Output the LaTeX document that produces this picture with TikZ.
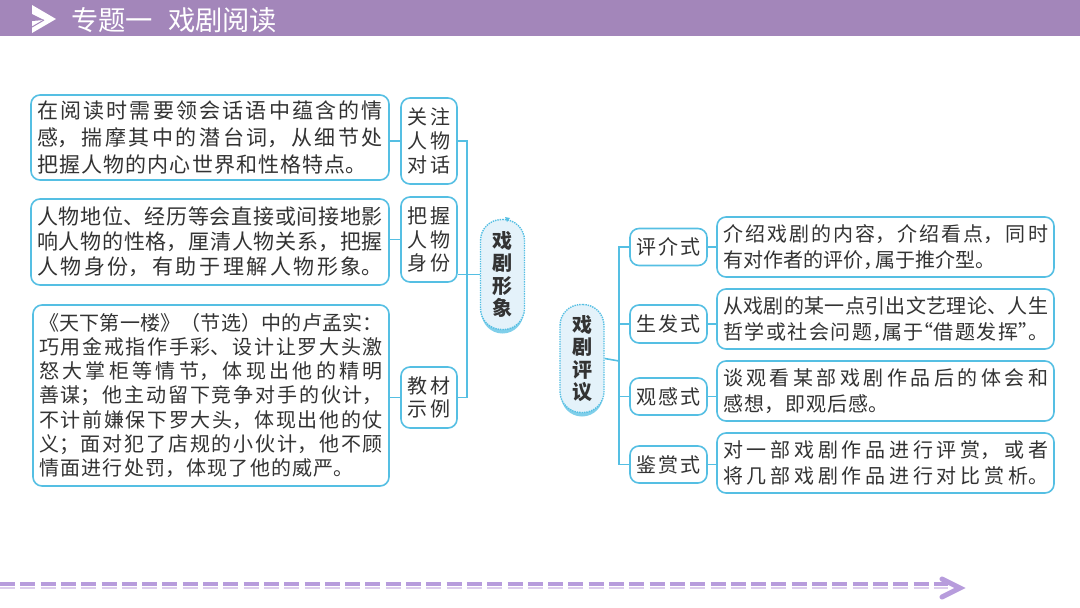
\documentclass[tikz,border=0pt]{standalone}
\usepackage{fontspec}
\setmainfont{Noto Sans CJK SC}
\usepackage{tikz}
\usetikzlibrary{positioning}
\definecolor{barpurple}{HTML}{A386BA}
\definecolor{dashpurple}{HTML}{B79CDC}
\definecolor{dashlight}{HTML}{DCCDEC}
\definecolor{linkblue}{HTML}{55BFE3}
\definecolor{softblue}{HTML}{E4F2FA}
\definecolor{inkgray}{HTML}{333333}
\XeTeXlinebreaklocale "zh"
\XeTeXlinebreakskip=0pt plus 8pt
\newcommand{\lastfill}[1]{\kern#1\parfillskip=0pt\par}
\tikzset{
  x=1pt, y=-1pt,
  textbox/.style={rectangle, rounded corners=9pt, draw=linkblue, line width=1.6pt, fill=white, text=inkgray, inner xsep=6pt, inner ysep=0pt, align=justify, font=\fontsize{21}{27}\selectfont},
  tagbox/.style={rectangle, rounded corners=9pt, draw=linkblue, line width=1.6pt, fill=white, text=inkgray, inner sep=0pt, align=center, font=\fontsize{20}{23.7}\selectfont},
  topicbox/.style={rectangle, rounded corners=21pt, draw=linkblue, densely dotted, line width=1.4pt, fill=softblue, text=inkgray, inner sep=0pt, minimum width=44pt, align=center, font=\fontsize{20}{22.4}\selectfont\bfseries},
  topicshade/.style={rectangle, rounded corners=21pt, fill=linkblue!75, minimum width=42pt},
  link/.style={draw=linkblue, line width=1.6pt},
}
\begin{document}
\begin{tikzpicture}
  \useasboundingbox (0,0) rectangle (1080,608);

  % Header
  \fill[barpurple] (0,0) rectangle (1080,36);
  \fill[white] (32,5) -- (56,19) -- (32,33) -- cycle;
  \fill[barpurple] (32,14) -- (44,20) -- (32,21) -- cycle;
  \draw[barpurple, line width=1pt] (32,27) -- (44,20);
  \node[text=white, font=\fontsize{27.3}{27.3}\selectfont, anchor=west, inner sep=0pt] (title) at (71,20) {专题一\hspace{15pt}戏剧阅读};

  % Left nodes
  \node[textbox, text width=346pt, minimum height=85pt] (talk) at (210,137.5) {在阅读时需要领会话语中蕴含的情\linebreak 感，揣摩其中的潜台词，从细节处\linebreak 把握人物的内心世界和性格特点。\lastfill{16pt}};
  \node[textbox, text width=346pt, minimum height=86pt, font=\fontsize{21}{25}\selectfont] (status) at (210,242) {人物地位、经历等会直接或间接地影\linebreak 响人物的性格，厘清人物关系，把握\linebreak 人物身份，有助于理解人物形象。\lastfill{0pt}};
  \node[textbox, text width=344pt, minimum height=181pt, font=\fontsize{20}{24.2}\selectfont] (sample) at (211,395.5) {《天下第一楼》（节选）中的卢孟实：\linebreak 巧用金戒指作手彩、设计让罗大头激\linebreak 怒大掌柜等情节，体现出他的精明\linebreak 善谋；他主动留下竞争对手的伙计，\linebreak 不计前嫌保下罗大头，体现出他的仗\linebreak 义；面对犯了店规的小伙计，他不顾\linebreak 情面进行处罚，体现了他的威严。\lastfill{29pt}};
  \node[tagbox, minimum width=56pt, minimum height=86pt] (tagtalk) at (429,141) {关\hspace{3pt}注\\人\hspace{3pt}物\\对\hspace{3pt}话};
  \node[tagbox, minimum width=56pt, minimum height=85pt] (tagstatus) at (429,239.5) {把\hspace{3pt}握\\人\hspace{3pt}物\\身\hspace{3pt}份};
  \node[tagbox, minimum width=56pt, minimum height=61pt] (tagsample) at (429,397.5) {教\hspace{3pt}材\\示\hspace{3pt}例};
  \node[topicshade, minimum height=112pt] (shadeimage) at (502.5,277.5) {};
  \node[topicbox, minimum height=110pt] (image) at (502.5,274.5) {戏\\剧\\形\\象};
  \fill[linkblue] (505,217) -- (510,218) -- (507,222) -- cycle;

  % Right nodes
  \node[topicshade, minimum height=110pt] (shadereview) at (582,361.5) {};
  \node[topicbox, minimum height=108pt] (review) at (582,358.5) {戏\\剧\\评\\议};
  \node[tagbox, minimum width=77pt, minimum height=37pt] (tagintro) at (668.5,247) {评\hspace{2pt}介\hspace{2pt}式};
  \node[tagbox, minimum width=77pt, minimum height=38pt] (tagbirth) at (668.5,324) {生\hspace{2pt}发\hspace{2pt}式};
  \node[tagbox, minimum width=77pt, minimum height=37pt] (tagfeel) at (668.5,396.5) {观\hspace{2pt}感\hspace{2pt}式};
  \node[tagbox, minimum width=77pt, minimum height=37pt] (tagappr) at (668.5,464.5) {鉴\hspace{2pt}赏\hspace{2pt}式};
  \node[textbox, text width=325pt, minimum height=60pt, font=\fontsize{20}{26}\selectfont] (intro) at (885.5,247) {介绍戏剧的内容，介绍看点，同时\linebreak 有对作者的评价，\kern-8pt 属于推介型。};
  \node[textbox, text width=325pt, minimum height=60pt, font=\fontsize{20}{26}\selectfont] (birth) at (885.5,319) {从戏剧的某一点引出文艺理论、人生\linebreak 哲学或社会问题，\kern-10pt 属于\kern-10pt “借题发挥”\kern-10pt 。\lastfill{0pt}};
  \node[textbox, text width=325pt, minimum height=60pt, font=\fontsize{20}{26}\selectfont] (feel) at (885.5,391) {谈观看某部戏剧作品后的体会和\linebreak 感想，即观后感。\lastfill{160pt}};
  \node[textbox, text width=325pt, minimum height=60pt, font=\fontsize{20}{26}\selectfont] (appr) at (885.5,463) {对一部戏剧作品进行评赏，或者\linebreak 将几部戏剧作品进行对比赏析。\lastfill{0pt}};

  % Connectors
  \coordinate (forkleft) at (467,275);
  \coordinate (forkright) at (619,361);
  \draw[link] (tagtalk.west) -- (tagtalk.west -| talk.east);
  \draw[link] (tagstatus.west) -- (tagstatus.west -| status.east);
  \draw[link] (tagsample.west) -- (tagsample.west -| sample.east);
  \draw[link] (tagtalk.east) -| (forkleft);
  \draw[link] (tagsample.east) -| (forkleft);
  \draw[link] (image.west) -- (image.west -| tagstatus.east);
  \draw[link] (review.east) -- (forkright);
  \draw[link] (tagintro.west) -| (forkright);
  \draw[link] (tagappr.west) -| (forkright);
  \draw[link] (tagbirth.west) -- (tagbirth.west -| forkright);
  \draw[link] (tagfeel.west) -- (tagfeel.west -| forkright);
  \draw[link] (tagintro.east) -- (tagintro.east -| intro.west);
  \draw[link] (tagbirth.east) -- (tagbirth.east -| birth.west);
  \draw[link] (tagfeel.east) -- (tagfeel.east -| feel.west);
  \draw[link] (tagappr.east) -- (tagappr.east -| appr.west);

  % Bottom arrow
  \coordinate (dashstart) at (0,584);
  \coordinate (dashend) at (948,584);
  \coordinate (lightstart) at (0,588);
  \coordinate (lightend) at (948,588);
  \draw[dashpurple, line width=4pt, dash pattern=on 15pt off 5.3pt] (dashstart) -- (dashend);
  \draw[dashlight, line width=2pt, dash pattern=on 15pt off 5.3pt] (lightstart) -- (lightend);
  \draw[dashpurple, line width=5pt, line cap=round, line join=miter] (942,579) -- (960,588) -- (942,597);
\end{tikzpicture}
\end{document}
